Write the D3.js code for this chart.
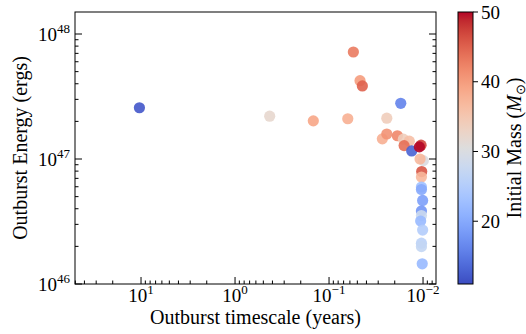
<!DOCTYPE html>
<html><head><meta charset="utf-8">
<script src="https://cdn.jsdelivr.net/npm/d3@7"></script>
<style>
body{margin:0;background:#fff}
svg{display:block}
text{font-family:"Liberation Serif","Times New Roman",serif;fill:#000}
</style>
</head><body><svg id="c" width="526" height="334"></svg>
<script>
// ---- data ----
const timescale = [10.4, 0.428, 0.147, 0.0632, 0.0551, 0.0468, 0.0442, 0.01726, 0.0243, 0.0271, 0.0243, 0.01875, 0.0162, 0.0140, 0.0159, 0.0132, 0.0105, 0.01094, 0.00993, 0.01076, 0.01033, 0.0104, 0.0104, 0.0104, 0.0101, 0.0104, 0.0104, 0.0106, 0.0101, 0.0104, 0.0104, 0.0102];
const energy = [2.57e47, 2.20e47, 2.02e47, 2.10e47, 7.18e47, 4.23e47, 3.84e47, 2.79e47, 2.12e47, 1.45e47, 1.585e47, 1.535e47, 1.44e47, 1.39e47, 1.28e47, 1.16e47, 1.29e47, 1.25e47, 9.7e46, 1.0e47, 7.94e46, 7.18e46, 5.97e46, 5.70e46, 4.66e46, 3.84e46, 3.53e46, 3.19e46, 2.70e46, 2.12e46, 1.99e46, 1.45e46];
const mass = [12, 32, 39, 38, 43, 40, 45, 16, 34, 38, 41, 42, 34, 36, 44, 13, 47, 50, 30, 37, 46, 37, 23, 20, 19, 18, 28, 22, 25, 26, 27, 22];
const xTickValues = [10, 1, 0.1, 0.01];
const xTickExps = ["1", "0", "\u22121", "\u22122"];
const yTickValues = [1e46, 1e47, 1e48];
const yTickExps = ["46", "47", "48"];
const cbarTicks = [20, 30, 40, 50];
const xLabel = "Outburst timescale (years)";
const yLabel = "Outburst Energy (ergs)";

// coolwarm colormap stops (Moreland)
const cw = [[59,76,192],[68,90,204],[77,104,215],[87,117,225],[98,130,234],[108,142,241],[119,154,247],[130,165,251],[141,176,254],[152,185,255],[163,194,255],[174,201,253],[184,208,249],[194,213,244],[204,217,238],[213,219,230],[221,221,221],[229,216,209],[236,211,197],[241,204,185],[245,196,173],[247,187,160],[247,177,148],[247,166,135],[244,154,123],[241,141,111],[236,127,99],[229,112,88],[222,96,77],[213,80,66],[203,62,56],[192,40,47],[180,4,38]];
const cwScale = d3.scaleLinear().domain(cw.map((d,i)=>i/(cw.length-1))).range(cw.map(c=>`rgb(${c[0]},${c[1]},${c[2]})`)).interpolate(d3.interpolateRgb).clamp(true);

const vmin = 11.0, vmax = 50;
const norm = d3.scaleLinear().domain([vmin, vmax]).range([0,1]).clamp(true);
const color = v => cwScale(norm(v));

const svg = d3.select("#c");
const L = 75, R = 436, T = 12, B = 284;
const x = d3.scaleLog().domain([50.4, 0.00728]).range([L, R]);
const y = d3.scaleLog().domain([1e46, 1.5e48]).range([B, T]);

function minors(lo, hi) {
  const out = [];
  for (let e = -4; e <= 49; e++) for (let m = 2; m <= 9; m++) {
    const v = m * Math.pow(10, e);
    if (v > Math.min(lo,hi) && v < Math.max(lo,hi)) out.push(v);
  }
  return out;
}
const xMinor = minors(0.00728, 50.4);
const yMinor = minors(1e46, 1.5e48);

// points
const pts = timescale.map((t,i)=>({t, e: energy[i], m: mass[i]}));
svg.append("g").selectAll("circle").data(pts).join("circle")
  .attr("cx", d=>x(d.t)).attr("cy", d=>y(d.e)).attr("r", 5.6)
  .attr("fill", d=>color(d.m)).attr("fill-opacity", 0.9);

// axes ticks (inward)
const ax = svg.append("g").attr("stroke", "#000").attr("stroke-width", 1);
ax.selectAll(".xM").data(xTickValues).join("line").attr("x1", d=>x(d)).attr("x2", d=>x(d)).attr("y1", B).attr("y2", B-7);
ax.selectAll(".xm").data(xMinor).join("line").attr("x1", d=>x(d)).attr("x2", d=>x(d)).attr("y1", B).attr("y2", B-3.5);
ax.selectAll(".yM").data(yTickValues).join("line").attr("y1", d=>y(d)).attr("y2", d=>y(d)).attr("x1", L).attr("x2", L+7);
ax.selectAll(".ym").data(yMinor).join("line").attr("y1", d=>y(d)).attr("y2", d=>y(d)).attr("x1", L).attr("x2", L+3.5);
ax.selectAll(".yMr").data(yTickValues).join("line").attr("y1", d=>y(d)).attr("y2", d=>y(d)).attr("x1", R).attr("x2", R-7);
ax.selectAll(".ymr").data(yMinor).join("line").attr("y1", d=>y(d)).attr("y2", d=>y(d)).attr("x1", R).attr("x2", R-3.5);
svg.append("rect").attr("x", L).attr("y", T).attr("width", R-L).attr("height", B-T)
  .attr("fill", "none").attr("stroke", "#000").attr("stroke-width", 1);

// tick labels
const FS = 19, SS = 13;
svg.append("g").selectAll("text").data(xTickValues).join("text")
  .attr("x", d=>x(d)).attr("y", 301.5).attr("text-anchor", "middle").attr("font-size", FS)
  .each(function(d,i){
    const t = d3.select(this);
    t.append("tspan").text("10");
    t.append("tspan").attr("font-size", SS).attr("dy", -7.5).text(xTickExps[i]);
  });
svg.append("g").selectAll("text").data(yTickValues).join("text")
  .attr("x", 70).attr("y", d=>y(d)+6.7).attr("text-anchor", "end").attr("font-size", FS)
  .each(function(d,i){
    const t = d3.select(this);
    t.append("tspan").text("10");
    t.append("tspan").attr("font-size", SS).attr("dy", -7.5).text(yTickExps[i]);
  });

// axis labels
svg.append("text").attr("x", (L+R)/2).attr("y", 324).attr("text-anchor", "middle").attr("font-size", 20).text(xLabel);
svg.append("text").attr("transform", `translate(27,${(T+B)/2}) rotate(-90)`).attr("text-anchor", "middle").attr("font-size", 20).text(yLabel);

// colorbar
const cbX = 458, cbW = 15;
const cy = d3.scaleLinear().domain([vmin, vmax]).range([B, T]);
const defs = svg.append("defs");
const grad = defs.append("linearGradient").attr("id", "cwg").attr("x1", 0).attr("y1", 1).attr("x2", 0).attr("y2", 0);
grad.selectAll("stop").data(cw).join("stop")
  .attr("offset", (d,i)=>i/(cw.length-1)).attr("stop-color", d=>`rgb(${d[0]},${d[1]},${d[2]})`);
svg.append("rect").attr("x", cbX).attr("y", T).attr("width", cbW).attr("height", B-T).attr("fill", "url(#cwg)");
svg.append("rect").attr("x", cbX).attr("y", T).attr("width", cbW).attr("height", B-T).attr("fill", "none").attr("stroke", "#000").attr("stroke-width", 1);
svg.append("g").attr("stroke", "#000").selectAll("line").data(cbarTicks).join("line")
  .attr("x1", cbX+cbW).attr("x2", cbX+cbW+5).attr("y1", d=>cy(d)).attr("y2", d=>cy(d));
svg.append("g").selectAll("text").data(cbarTicks).join("text")
  .attr("x", cbX+cbW+8).attr("y", d=>cy(d)+6.5).attr("font-size", FS).text(d=>d);
const cl = svg.append("text").attr("transform", `translate(520.5,${(T+B)/2}) rotate(-90)`).attr("text-anchor", "middle").attr("font-size", 20);
cl.append("tspan").text("Initial Mass (");
cl.append("tspan").attr("font-style", "italic").text("M");
cl.append("tspan").attr("font-size", 13).attr("dy", 4).text("\u2299");
cl.append("tspan").attr("dy", -4).text(")");
</script>
</body></html>
